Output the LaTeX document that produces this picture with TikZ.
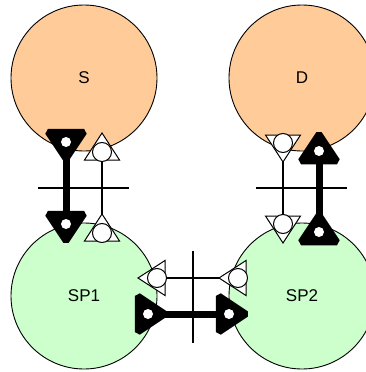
\documentclass[tikz,border=0pt]{standalone}
\usepackage{fontspec}
\setmainfont{Liberation Sans}
\definecolor{peach}{HTML}{FFCC99}
\definecolor{mint}{HTML}{CCFFCC}
\begin{document}
\begin{tikzpicture}[x=1pt,y=-1pt,
  proc/.style={circle, draw, line width=0.9pt, minimum size=146pt, inner sep=0pt,
    font=\fontsize{17}{20}\selectfont},
  thinline/.style={line width=1.1pt},
  thickline/.style={line width=7pt},
  crossline/.style={line width=1.1pt},
  thinmark/.pic={
    \draw[line width=1pt, fill=white] (-17.5,-8) -- (17.5,-8) -- (0,19) -- cycle;
    \draw[line width=1pt, fill=white] (0,0) circle (9.5);
  },
  thickmark/.pic={
    \draw[line width=6.5pt, line join=bevel, fill=black] (-18,-10) -- (18,-10) -- (0,17) -- cycle;
    \fill[white] (0,0) circle (5);
  }
]
\useasboundingbox (0,0) rectangle (366,372);

% processes
\node[proc, fill=peach] (S)   at (84,78)  {S};
\node[proc, fill=peach] (D)   at (302,78) {D};
\node[proc, fill=mint]  (SP1) at (84,296) {SP1};
\node[proc, fill=mint]  (SP2) at (302,296) {SP2};

% interaction points (circle centres)
\coordinate (sOut)  at (66,142);  \coordinate (p1In)  at (66,224);
\coordinate (sIn)   at (102,152); \coordinate (p1Out) at (102,233);
\coordinate (dOut)  at (283,143); \coordinate (p2In)  at (283,224);
\coordinate (dIn)   at (319,151); \coordinate (p2Out) at (319,232);
\coordinate (p1Rx)  at (157,278); \coordinate (p2Tx)  at (238,278);
\coordinate (p1Tx)  at (148,314); \coordinate (p2Rx)  at (229,314);

% channel boundaries
\coordinate (bl1) at (38,188);  \coordinate (bl2) at (129,188);
\coordinate (br1) at (256,188); \coordinate (br2) at (347,188);
\coordinate (bm1) at (193,251); \coordinate (bm2) at (193,343);

% connectors
\draw[thinline]  (sIn) -- (p1Out);
\draw[thinline]  (dOut) -- (p2In);
\draw[thinline]  (p1Rx) -- (p2Tx);
\draw[thickline] (sOut) -- (p1In);
\draw[thickline] (dIn) -- (p2Out);
\draw[thickline] (p1Tx) -- (p2Rx);

\draw[crossline] (bl1) -- (bl2);
\draw[crossline] (br1) -- (br2);
\draw[crossline] (bm1) -- (bm2);

% markers
\pic at (sOut) {thickmark};
\pic at (p1In) {thickmark};
\pic[rotate=180] at (sIn) {thinmark};
\pic[rotate=180] at (p1Out) {thinmark};
\pic at (dOut) {thinmark};
\pic at (p2In) {thinmark};
\pic[rotate=180] at (dIn) {thickmark};
\pic[rotate=180] at (p2Out) {thickmark};
\pic[rotate=-90] at (p1Rx) {thinmark};
\pic[rotate=-90] at (p2Tx) {thinmark};
\pic[rotate=90] at (p1Tx) {thickmark};
\pic[rotate=90] at (p2Rx) {thickmark};
\end{tikzpicture}
\end{document}
